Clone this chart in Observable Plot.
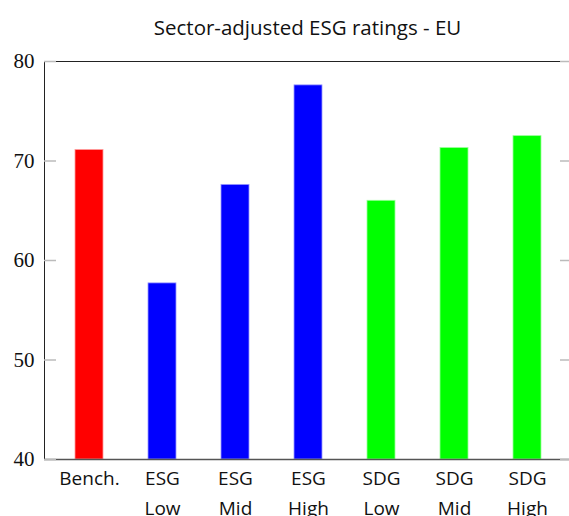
<!DOCTYPE html>
<html>
<head>
<meta charset="utf-8">
<script src="https://cdn.jsdelivr.net/npm/d3@7"></script>
<script src="https://cdn.jsdelivr.net/npm/@observablehq/plot@0.6"></script>
<style>
  body { margin: 0; background: white; }
  #title {
    font-family: "Open Sans", sans-serif;
    font-size: 20.5px;
    height: 44px;
    line-height: 54px;
    width: 615px;
    text-align: center;
    color: #111;
  }
</style>
</head>
<body>
<div id="title">Sector-adjusted ESG ratings - EU</div>
<div id="chart"></div>
<script>
// categories, groups and values
const categories = ["Bench.", "ESG\nLow", "ESG\nMid", "ESG\nHigh", "SDG\nLow", "SDG\nMid", "SDG\nHigh"];
const groups = ["bench", "esg", "esg", "esg", "sdg", "sdg", "sdg"];
const ratings = [71.1, 57.7, 67.6, 77.6, 66.0, 71.3, 72.5];
const yTicks = [40, 50, 60, 70, 80];

const groupColors = {bench: "red", esg: "blue", sdg: "#00ff00"};
const edgeColors = {bench: "#ff9a9a", esg: "#9a9aff", sdg: "#9aff9a"};

const data = categories.map((c, i) => ({cat: c, group: groups[i], value: ratings[i]}));

const chart = Plot.plot({
  width: 569,
  height: 472,
  marginLeft: 44,
  marginRight: -2,
  marginTop: 17,
  marginBottom: 57,
  x: {domain: categories, paddingInner: 0.617, paddingOuter: 0.41, label: null},
  y: {domain: [40, 80], label: null},
  marks: [
    Plot.barY(data, {
      x: "cat",
      y1: yTicks[0],
      y2: "value",
      fill: d => groupColors[d.group],
      stroke: d => edgeColors[d.group],
      strokeWidth: 0.8
    }),
    Plot.frame({stroke: "#222", strokeWidth: 1}),
    Plot.ruleY([yTicks[0]], {stroke: "#555", strokeWidth: 1.6}),
    // inward gray ticks, both sides
    Plot.axisY(yTicks, {anchor: "left", tickSize: -12, text: null, stroke: "#bbb", strokeWidth: 1.5}),
    Plot.axisY(yTicks, {anchor: "right", tickSize: -12, text: null, stroke: "#bbb", strokeWidth: 1.5}),
    Plot.axisY(yTicks, {
      anchor: "left",
      tickSize: 0,
      tickPadding: 10,
      fontSize: 21,
      fontFamily: "Liberation Serif, serif",
      fill: "#111"
    }),
    Plot.axisX({
      tickSize: 0,
      tickPadding: 4,
      fontSize: 19,
      lineHeight: 1.6,
      fontFamily: "Open Sans, sans-serif",
      fill: "#111"
    })
  ]
});

document.getElementById("chart").append(chart);
</script>
</body>
</html>
